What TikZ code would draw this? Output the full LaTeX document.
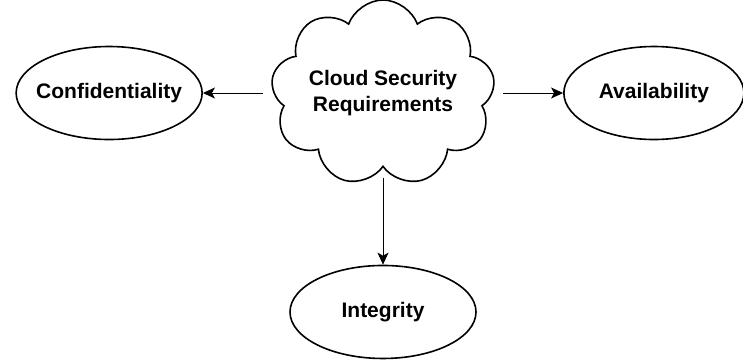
\documentclass[tikz,border=0pt]{standalone}
\usepackage{fontspec}
\setmainfont{Liberation Sans}
\usetikzlibrary{positioning, arrows.meta, shapes.geometric, shapes.symbols}

\begin{document}
\begin{tikzpicture}[
  node distance=97pt and 70pt,
  font=\fontsize{21}{26}\selectfont\bfseries,
  goal/.style={ellipse, draw, line width=1.6pt, inner xsep=-15pt, inner ysep=0pt, minimum width=186pt, minimum height=93pt, align=center},
  topic/.style={cloud, draw, line width=1.6pt, cloud puffs=9, cloud puff arc=140, inner xsep=-30pt, inner ysep=-15pt, minimum width=224pt, minimum height=186pt, align=center},
  arrow/.style={-{Stealth[length=12pt, width=11pt, inset=3pt]}, line width=1pt, shorten <=10pt}
]

  \useasboundingbox (0,0) rectangle (743pt,-360pt);

  % Central requirement
  \node[topic] (cloud) at (383pt,-93pt) {Cloud Security\\Requirements};

  % Security goals
  \node[goal, left=of cloud] (conf) {Confidentiality};
  \node[goal, right=of cloud, minimum width=180pt] (avail) {Availability};
  \node[goal, below=of cloud] (integ) {Integrity};

  % Arrows to each goal
  \draw[arrow] (cloud) -- (conf);
  \draw[arrow] (cloud) -- (avail);
  \draw[arrow] (cloud) -- (integ);

\end{tikzpicture}
\end{document}
